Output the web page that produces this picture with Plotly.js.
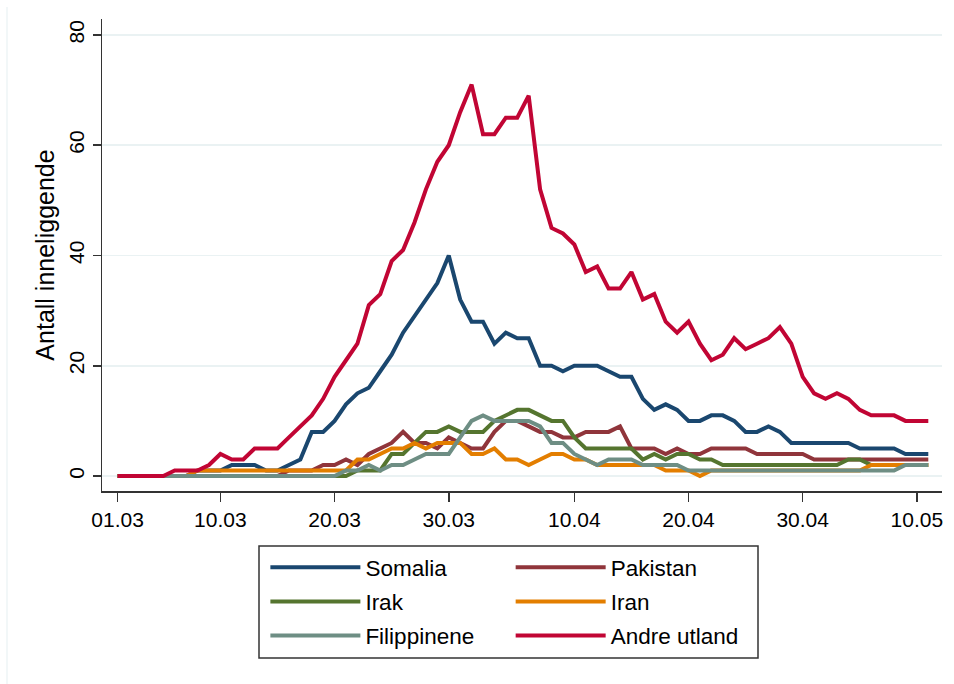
<!DOCTYPE html>
<html>
<head>
<meta charset="utf-8">
<script src="https://cdn.plot.ly/plotly-3.0.1.min.js"></script>
<style>html,body{margin:0;padding:0;background:#fff;}#chart{width:954px;height:684px;}</style>
</head>
<body>
<div id="chart"></div>
<script>
// ---- data (daily values, 01.03 – 11.05) ----
const startDate = '2020-03-01';
const seriesNames = ['Somalia', 'Pakistan', 'Irak', 'Iran', 'Filippinene', 'Andre utland'];
const somalia = [0,0,0,0,0,0,0,1,1,1,2,2,2,1,1,2,3,8,8,10,13,15,16,19,22,26,29,32,35,40,32,28,28,24,26,25,25,20,20,19,20,20,20,19,18,18,14,12,13,12,10,10,11,11,10,8,8,9,8,6,6,6,6,6,6,5,5,5,5,4,4,4];
const pakistan = [0,0,0,0,0,0,0,0,0,0,0,0,0,0,0,1,1,1,2,2,3,2,4,5,6,8,6,6,5,7,6,5,5,8,10,10,9,8,8,7,7,8,8,8,9,5,5,5,4,5,4,4,5,5,5,5,4,4,4,4,4,3,3,3,3,3,3,3,3,3,3,3];
const irak = [0,0,0,0,0,0,0,0,0,0,0,0,0,0,0,0,0,0,0,0,0,1,1,1,4,4,6,8,8,9,8,8,8,10,11,12,12,11,10,10,7,5,5,5,5,5,3,4,3,4,4,3,3,2,2,2,2,2,2,2,2,2,2,2,3,3,2,2,2,2,2,2];
const iran = [0,0,0,0,0,0,0,1,1,1,1,1,1,1,1,1,1,1,1,1,1,3,3,4,5,5,6,5,6,6,6,4,4,5,3,3,2,3,4,4,3,3,2,2,2,2,2,2,1,1,1,0,1,1,1,1,1,1,1,1,1,1,1,1,1,1,2,2,2,2,2,2];
const filippinene = [0,0,0,0,0,0,0,0,0,0,0,0,0,0,0,0,0,0,0,0,1,1,2,1,2,2,3,4,4,4,7,10,11,10,10,10,10,9,6,6,4,3,2,3,3,3,2,2,2,2,1,1,1,1,1,1,1,1,1,1,1,1,1,1,1,1,1,1,1,2,2,2];
const andreUtland = [0,0,0,0,0,1,1,1,2,4,3,3,5,5,5,7,9,11,14,18,21,24,31,33,39,41,46,52,57,60,66,71,62,62,65,65,69,52,45,44,42,37,38,34,34,37,32,33,28,26,28,24,21,22,25,23,24,25,27,24,18,15,14,15,14,12,11,11,11,10,10,10];
const tickDates = ['2020-03-01','2020-03-10','2020-03-20','2020-03-30','2020-04-10','2020-04-20','2020-04-30','2020-05-10'];
const tickLabels = ['01.03','10.03','20.03','30.03','10.04','20.04','30.04','10.05'];
const yTicks = [0, 20, 40, 60, 80];
const yTitle = 'Antall inneliggende';

// ---- styles ----
const colors = ['#1a476f', '#90353b', '#55752f', '#e37e00', '#6e8e84', '#c10534'];
const legendOf = ['legend', 'legend2', 'legend', 'legend2', 'legend', 'legend2'];

const DAY = 86400000;
const t0 = Date.parse(startDate + 'T00:00:00Z');
function iso(ms) { return new Date(ms).toISOString().slice(0, 19).replace('T', ' '); }
const values = [somalia, pakistan, irak, iran, filippinene, andreUtland];
const dates = somalia.map((_, i) => iso(t0 + i * DAY));

const traces = values.map((v, k) => ({
  type: 'scatter', mode: 'lines',
  name: seriesNames[k],
  x: dates, y: v,
  line: {color: colors[k], width: 4, shape: 'linear'},
  legend: legendOf[k],
  legendgroup: 'g' + k,
  hoverinfo: 'skip'
}));

const FONT = 'Liberation Sans, Arial, Helvetica, sans-serif';
const legendBase = {
  orientation: 'v', xanchor: 'left', yanchor: 'top',
  y: -0.117, itemwidth: 90, tracegroupgap: 1.8,
  bgcolor: 'rgba(0,0,0,0)', borderwidth: 0,
  font: {family: FONT, size: 22.5, color: '#000'}
};

const layout = {
  width: 954, height: 684,
  margin: {l: 102, r: 12, t: 19, b: 193},
  paper_bgcolor: '#ffffff', plot_bgcolor: '#ffffff',
  font: {family: FONT, size: 20, color: '#000'},
  showlegend: true,
  xaxis: {
    type: 'date',
    range: [iso(t0 - 1.37 * DAY), iso(t0 + 72.2 * DAY)],
    tickmode: 'array', tickvals: tickDates, ticktext: tickLabels,
    ticks: 'outside', ticklen: 9, tickwidth: 1.5, tickcolor: '#333',
    showline: true, linecolor: '#333', linewidth: 1.5,
    showgrid: false, zeroline: false,
    tickfont: {family: FONT, size: 21, color: '#000'}
  },
  yaxis: {
    range: [-2.72, 82.9],
    tickmode: 'array', tickvals: yTicks,
    ticks: 'outside', ticklen: 8, tickwidth: 1.5, tickcolor: '#333',
    tickangle: -90,
    showline: true, linecolor: '#333', linewidth: 1.5,
    showgrid: true, gridcolor: '#eaf2f3', gridwidth: 1.5,
    zeroline: false,
    tickfont: {family: FONT, size: 21, color: '#000'},
    title: {text: yTitle, font: {family: FONT, size: 25, color: '#000'}, standoff: 3}
  },
  legend: Object.assign({}, legendBase, {x: 0.1945}),
  legend2: Object.assign({}, legendBase, {x: 0.4865}),
  shapes: [
    {type: 'rect', xref: 'paper', yref: 'paper',
     x0: (259 - 102) / 840, x1: (758 - 102) / 840,
     y0: (491 - 658) / 472, y1: (491 - 546) / 472,
     line: {color: '#333', width: 1.5}, fillcolor: 'rgba(0,0,0,0)'},
    {type: 'line', xref: 'paper', yref: 'paper',
     x0: (7 - 102) / 840, x1: (7 - 102) / 840,
     y0: (491 - 684) / 472, y1: (491 - 7) / 472,
     line: {color: '#eef4f6', width: 1.5}}
  ]
};

Plotly.newPlot('chart', traces, layout, {displayModeBar: false, staticPlot: true});
</script>
</body>
</html>
